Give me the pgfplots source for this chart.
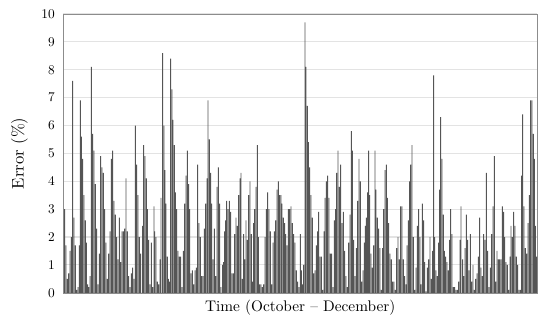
\documentclass[border=0pt]{standalone}
\usepackage{pgfplots}
\pgfplotsset{compat=1.18}
\definecolor{barc}{HTML}{555555}
\definecolor{gridc}{HTML}{E3E3E3}
\definecolor{framec}{HTML}{8C8C8C}
\begin{document}
\begin{tikzpicture}
\begin{axis}[
  scale only axis,
  width=355pt, height=209pt,
  xmin=63.5, xmax=537, ymin=0, ymax=10,
  xtick=\empty,
  ytick={0,1,...,10},
  ymajorgrids,
  grid style={gridc, line width=0.8pt},
  axis line style={framec},
  tick style={draw=none},
  tick label style={font=\normalsize},
  yticklabel style={xshift=-3pt},
  /pgf/number format/assume math mode=true,
  ylabel={Error (\%)},
  xlabel={Time (October -- December)},
  label style={font=\normalsize},
  every axis y label/.style={at={([xshift=-33pt]axis description cs:0,0.5)}, rotate=90, anchor=center, scale=1.25},
  every axis x label/.style={at={([yshift=-11.5pt]axis description cs:0.5,0)}, anchor=center, scale=1.15},
  ybar, bar width=0.9,
  mybar/.style={fill=barc, draw=none, bar shift=0pt},
]
\coordinate (bl) at (rel axis cs:0,0);
\coordinate (tr) at (rel axis cs:1,1);
% section 1 (x offset 62)
\addplot[mybar] table[x expr=\thisrow{zx}/3+62, y=v] {
zx v
8 3.0
12 1.7
16 0.5
20 0.7
24 1.5
28 2.0
32 7.6
36 2.7
40 1.7
44 0.1
48 0.2
52 1.7
55 6.9
58 5.6
62 4.8
66 3.5
70 2.6
73 1.8
77 0.3
80 0.2
84 0.6
88 8.1
92 5.7
96 5.1
100 3.9
104 2.3
108 0.3
112 1.4
116 4.9
120 4.5
124 4.3
128 3.0
132 1.8
136 0.5
140 1.4
144 2.2
148 4.8
152 5.1
156 3.3
160 2.8
164 2.0
168 1.2
172 2.7
176 1.1
180 2.2
184 2.2
188 2.3
192 4.1
196 2.2
200 0.6
204 0.2
208 0.7
212 0.9
216 0.5
220 6.0
224 4.6
228 3.5
232 2.0
236 1.4
};
% section 2 (x offset 142)
\addplot[mybar] table[x expr=\thisrow{zx}/3+142, y=v] {
zx v
2 2.4
5 5.3
9 4.9
13 4.1
16 3.0
20 1.9
24 0.3
28 1.8
32 0.2
36 3.1
38 2.2
42 2.0
46 0.4
50 0.3
54 1.2
57 3.4
62 8.6
66 6.0
69 4.4
72 3.2
76 1.3
79 0.5
83 0.4
86 8.4
90 7.3
93 6.2
97 5.3
100 3.6
104 3.0
108 1.5
112 1.3
116 1.3
120 0.2
124 1.5
128 3.2
132 4.2
136 5.1
140 3.9
143 3.0
147 0.7
151 0.8
155 0.3
159 0.8
163 0.9
167 4.6
171 2.5
175 2.0
179 0.6
183 0.6
187 2.3
191 3.2
195 4.1
198 6.9
202 5.5
206 4.3
209 3.2
213 1.2
217 2.3
221 0.6
225 3.8
229 4.5
233 3.2
237 0.2
};
% section 3 (x offset 222)
\addplot[mybar] table[x expr=\thisrow{zx}/3+222, y=v] {
zx v
2 1.0
5 1.1
8 2.2
11 2.6
14 3.3
18 3.0
22 3.3
26 2.9
30 0.7
34 0.7
38 2.1
42 2.7
46 2.4
50 3.5
54 4.1
57 4.3
61 0.5
65 2.1
68 1.2
72 2.6
76 1.9
80 3.5
84 4.0
88 2.1
91 0.4
95 2.5
98 3.0
102 3.8
106 5.3
109 2.0
113 0.3
117 0.3
121 0.2
125 0.3
129 2.0
133 3.0
137 3.6
141 3.0
145 2.2
149 0.3
153 1.8
157 2.2
161 2.6
165 3.7
169 4.0
173 3.5
177 3.5
180 3.2
184 2.7
188 2.5
191 2.1
195 1.7
199 3.0
203 3.0
207 3.1
211 2.5
215 2.1
219 1.8
223 0.8
227 0.4
231 0.2
235 2.1
238 0.8
};
% section 4 (x offset 302)
\addplot[mybar] table[x expr=\thisrow{zx}/3+302, y=v] {
zx v
2 0.3
5 1.0
9 9.7
12 8.1
16 6.7
19 5.4
23 4.5
27 3.5
31 2.7
35 0.7
39 0.8
43 1.7
47 2.2
50 2.9
54 1.3
58 1.3
62 0.1
66 2.2
69 3.4
73 4.0
77 4.2
81 3.4
85 1.4
89 1.4
93 0.2
97 2.6
101 3.0
104 4.3
108 5.1
112 3.8
116 4.6
120 2.5
124 2.9
128 1.5
132 0.6
136 0.2
140 1.8
144 2.8
148 5.8
151 5.1
155 1.9
159 0.6
163 1.6
167 3.3
171 4.8
175 4.0
179 0.4
183 0.8
187 1.8
190 2.4
193 2.7
197 3.6
200 5.1
203 3.5
207 1.4
211 0.9
215 1.7
219 5.1
222 3.7
226 2.7
230 2.3
234 1.6
238 0.1
};
% section 5 (x offset 382)
\addplot[mybar] table[x expr=\thisrow{zx}/3+382, y=v] {
zx v
2 1.6
5 3.0
9 4.4
13 4.6
16 3.4
20 2.5
24 1.4
28 1.2
32 0.4
36 0.4
40 0.1
44 1.6
48 2.0
52 1.2
56 3.1
60 3.1
64 1.2
68 0.6
72 0.3
75 1.7
79 2.6
83 4.0
86 4.6
90 5.3
94 2.0
98 0.1
102 0.9
106 2.4
110 3.0
114 2.0
117 0.3
121 3.2
125 2.6
128 1.1
132 0.05
136 0.9
140 1.2
144 2.0
148 0.5
152 1.5
155 7.8
158 2.0
162 0.8
166 0.6
170 1.8
173 3.7
176 6.3
180 4.8
184 2.8
187 1.5
191 1.3
195 1.1
199 0.8
203 1.9
206 3.0
210 2.1
214 0.2
218 0.2
222 0.1
226 0.1
230 0.4
234 1.9
237 3.1
};
% section 6 (x offset 462)
\addplot[mybar] table[x expr=\thisrow{zx}/3+462, y=v] {
zx v
2 1.2
5 0.6
9 1.6
13 2.8
17 1.9
21 0.8
25 2.1
29 0.4
33 1.0
37 0.1
41 0.5
45 0.7
49 1.3
53 2.7
57 0.9
61 0.6
65 2.1
69 1.9
73 4.3
77 1.5
81 0.2
85 0.9
89 2.1
93 3.1
97 4.9
101 0.4
105 1.5
109 1.2
113 1.2
117 1.2
121 3.1
125 2.9
128 2.0
132 1.1
136 1.0
140 0.1
144 1.3
147 2.4
151 2.0
155 2.9
159 2.4
163 1.3
167 1.0
171 0.1
175 0.1
179 4.2
182 6.4
186 3.1
190 1.6
194 1.4
198 2.5
202 3.5
206 6.9
210 6.9
214 5.7
217 4.8
220 2.4
224 1.3
};
\end{axis}
\path (bl) ++(-47.6pt,-21.7pt) coordinate (p1);
\path (tr) ++(1.5pt,10.5pt) coordinate (p2);
\useasboundingbox (p1) rectangle (p2);
\end{tikzpicture}
\end{document}
